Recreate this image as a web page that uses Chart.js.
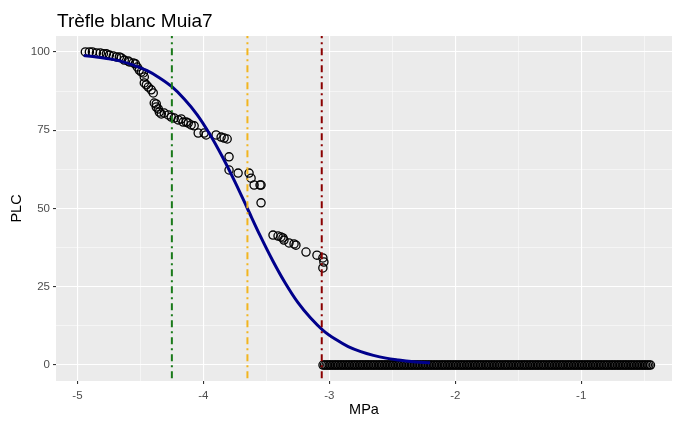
<!DOCTYPE html>
<html>
<head>
<meta charset="utf-8">
<script src="https://cdn.jsdelivr.net/npm/chart.js@4/dist/chart.umd.min.js"></script>
<style>
html,body{margin:0;padding:0;background:#fff;}
#c{display:block;}
</style>
</head>
<body>
<canvas id="c" width="679" height="426"></canvas>
<script>
const chartTitle = 'Trèfle blanc Muia7';
const xAxisTitle = 'MPa';
const yAxisTitle = 'PLC';

const measuredMPa = [-4.937,-4.905,-4.881,-4.849,-4.818,-4.794,-4.770,-4.746,-4.715,-4.691,-4.667,-4.651,-4.628,-4.596,-4.588,-4.556,-4.540,-4.525,-4.509,-4.493,-4.477,-4.469,-4.469,-4.453,-4.437,-4.414,-4.398,-4.390,-4.374,-4.374,-4.358,-4.350,-4.334,-4.311,-4.279,-4.255,-4.231,-4.200,-4.176,-4.160,-4.136,-4.120,-4.097,-4.073,-4.041,-3.994,-3.978,-3.899,-3.859,-3.835,-3.811,-3.796,-3.796,-3.724,-3.637,-3.621,-3.597,-3.550,-3.542,-3.542,-3.447,-3.407,-3.384,-3.368,-3.360,-3.320,-3.280,-3.265,-3.185,-3.098,-3.051,-3.043,-3.051];
const measuredPLC = [100.0,100.0,100.0,99.7,99.7,99.4,99.4,99.0,98.7,98.4,98.4,98.1,97.4,97.1,96.8,96.5,96.2,95.2,94.2,93.6,93.3,92.0,90.1,89.5,88.8,87.9,86.9,83.7,83.4,82.4,81.8,80.8,80.2,80.5,79.9,79.2,78.9,78.3,78.6,77.6,77.6,77.3,76.7,76.4,74.1,74.1,73.5,73.5,72.8,72.5,72.2,66.5,62.3,61.3,61.3,59.7,57.5,57.5,57.5,51.8,41.5,41.2,40.9,40.6,39.9,39.0,38.7,38.3,36.1,35.1,34.2,32.9,31.0];

// measured points lying on PLC = 0
const zeroMPa = [-3.050,-3.025,-3.000,-2.975,-2.950,-2.925,-2.900,-2.875,-2.850,-2.825,-2.800,-2.775,-2.750,-2.725,-2.700,-2.675,-2.650,-2.625,-2.600,-2.575,-2.550,-2.525,-2.500,-2.475,-2.450,-2.425,-2.400,-2.375,-2.350,-2.325,-2.300,-2.275,-2.250,-2.225,-2.200,-2.175,-2.150,-2.125,-2.100,-2.075,-2.050,-2.025,-2.000,-1.975,-1.950,-1.925,-1.900,-1.875,-1.850,-1.825,-1.800,-1.775,-1.750,-1.725,-1.700,-1.675,-1.650,-1.625,-1.600,-1.575,-1.550,-1.525,-1.500,-1.475,-1.450,-1.425,-1.400,-1.375,-1.350,-1.325,-1.300,-1.275,-1.250,-1.225,-1.200,-1.175,-1.150,-1.125,-1.100,-1.075,-1.050,-1.025,-1.000,-0.975,-0.950,-0.925,-0.900,-0.875,-0.850,-0.825,-0.800,-0.775,-0.750,-0.725,-0.700,-0.675,-0.650,-0.625,-0.600,-0.575,-0.550,-0.525,-0.500,-0.475,-0.450,
  -3.038,-3.012,-2.988,-2.962,-2.938,-2.912,-2.888,-2.862,-2.838,-2.812,-2.788,-2.762,-2.738,-2.712,-2.688,-2.662,-2.638,-2.612,-2.588,-2.562,-2.538,-2.512,-2.488,-2.462,-2.438,-2.412,-2.388,-2.362,-2.338,-2.312,-2.288,-2.262,-2.238,-2.212,-2.188,-2.162,-2.138,-2.112,-2.088,-2.062,-2.038,-2.012,-1.988,-1.962,-1.938,-1.912,-1.888,-1.862,-1.838,-1.812,-1.788,-1.762,-1.738,-1.712,-1.688,-1.662,-1.638,-1.612,-1.588,-1.562,-1.538,-1.512,-1.488,-1.462,-1.438,-1.412,-1.388,-1.362,-1.338,-1.312,-1.288,-1.262,-1.238,-1.212,-1.188,-1.162,-1.138,-1.112,-1.088,-1.062,-1.038,-1.012,-0.988,-0.962,-0.938,-0.912,-0.888,-0.862,-0.838,-0.812,-0.788,-0.762,-0.738,-0.712,-0.688,-0.662,-0.638,-0.612,-0.588,-0.562,-0.538,-0.512,-0.488,-0.462];
const zeroPLC = zeroMPa.map(() => 0);

// fitted curve
const curveMPa = [-4.95,-4.85,-4.75,-4.65,-4.55,-4.45,-4.35,-4.25,-4.15,-4.05,-3.95,-3.85,-3.75,-3.65,-3.55,-3.45,-3.35,-3.25,-3.15,-3.05,-2.95,-2.85,-2.75,-2.65,-2.55,-2.45,-2.35,-2.25,-2.20];
const curvePLC = [98.9,98.4,97.8,97.0,95.7,94.1,91.8,88.9,84.9,80.0,73.8,66.6,58.6,50.0,41.4,33.4,26.2,20.0,15.1,11.1,8.2,5.9,4.3,3.1,2.2,1.6,1.1,0.8,0.7];

// reference vertical lines (P88, P50, P12)
const refLineMPa = [-4.25, -3.65, -3.06];

const xTickValues = [-5,-4.5,-4,-3.5,-3,-2.5,-2,-1.5,-1,-0.5];
const xTickLabels = ['-5','','-4','','-3','','-2','','-1',''];
const yTickValues = [0,12.5,25,37.5,50,62.5,75,87.5,100];
const yTickLabels = ['0','','25','','50','','75','','100'];

const xMin = -5.17, xMax = -0.279;
const yMin = -5.1, yMax = 105.1;

const FONT = "'Liberation Sans', Arial, sans-serif";
const refColors = ['#1a7a1a', '#F2B51F', '#8B0000'];

const datasets = [];
refLineMPa.forEach((v, i) => {
  datasets.push({
    type: 'line',
    data: [{x: v, y: yMin - 10}, {x: v, y: yMax + 10}],
    borderColor: refColors[i],
    borderWidth: 2,
    borderDash: [7, 4, 2, 4],
    pointRadius: 0,
    fill: false,
    order: 1
  });
});
datasets.push({
  type: 'line',
  data: curveMPa.map((x, i) => ({x, y: curvePLC[i]})),
  borderColor: '#00008B',
  borderWidth: 3,
  pointRadius: 0,
  cubicInterpolationMode: 'monotone',
  fill: false,
  order: 2
});
datasets.push({
  type: 'scatter',
  data: measuredMPa.map((x, i) => ({x, y: measuredPLC[i]})).concat(zeroMPa.map((x, i) => ({x, y: zeroPLC[i]}))),
  borderColor: '#000',
  backgroundColor: 'rgba(0,0,0,0)',
  pointRadius: 4.1,
  pointBorderWidth: 1.3,
  order: 3
});

const panelBg = {
  id: 'panelBg',
  beforeDraw(chart) {
    const {ctx, chartArea: a} = chart;
    ctx.save();
    ctx.fillStyle = '#EBEBEB';
    ctx.fillRect(a.left, a.top, a.right - a.left, a.bottom - a.top);
    ctx.restore();
  },
  afterDraw(chart) {
    const ctx = chart.ctx;
    ctx.save();
    ctx.fillStyle = '#000';
    ctx.font = "19px " + FONT;
    ctx.textBaseline = 'alphabetic';
    ctx.textAlign = 'left';
    ctx.fillText(chartTitle, 57, 27);
    ctx.restore();
  }
};

const isMajorX = v => Number.isInteger(v);
const isMajorY = v => v % 25 === 0;

new Chart(document.getElementById('c'), {
  type: 'scatter',
  data: {datasets},
  options: {
    responsive: false,
    animation: false,
    devicePixelRatio: 1,
    layout: {padding: {top: 36, right: 7, left: 0, bottom: 0}},
    plugins: {legend: {display: false}, tooltip: {enabled: false}, title: {display: false}},
    scales: {
      x: {
        type: 'linear', min: xMin, max: xMax,
        afterBuildTicks: s => { s.ticks = xTickValues.map(v => ({value: v})); },
        afterFit: s => { s.height = 45; },
        border: {display: false},
        grid: {
          color: '#FFFFFF',
          lineWidth: c => (c.tick && isMajorX(c.tick.value)) ? 1.1 : 0.5,
          tickColor: c => (c.tick && isMajorX(c.tick.value)) ? '#333333' : 'rgba(0,0,0,0)',
          tickLength: 3,
          drawTicks: true
        },
        ticks: {
          autoSkip: false, maxRotation: 0, padding: 5,
          color: '#4D4D4D',
          font: {size: 11.5, family: FONT},
          callback: (v, i) => xTickLabels[i]
        },
        title: {display: true, text: xAxisTitle, color: '#000', font: {size: 14.5, family: FONT}, padding: {top: 0, bottom: 7}}
      },
      y: {
        type: 'linear', min: yMin, max: yMax,
        afterBuildTicks: s => { s.ticks = yTickValues.map(v => ({value: v})); },
        afterFit: s => { s.width = 56; },
        border: {display: false},
        grid: {
          color: '#FFFFFF',
          lineWidth: c => (c.tick && isMajorY(c.tick.value)) ? 1.1 : 0.5,
          tickColor: c => (c.tick && isMajorY(c.tick.value)) ? '#333333' : 'rgba(0,0,0,0)',
          tickLength: 3,
          drawTicks: true
        },
        ticks: {
          autoSkip: false, padding: 3,
          color: '#4D4D4D',
          font: {size: 11.5, family: FONT},
          callback: (v, i) => yTickLabels[i]
        },
        title: {display: true, text: yAxisTitle, color: '#000', font: {size: 14.5, family: FONT}, padding: {top: 8, bottom: 0}}
      }
    }
  },
  plugins: [panelBg]
});
</script>
</body>
</html>
